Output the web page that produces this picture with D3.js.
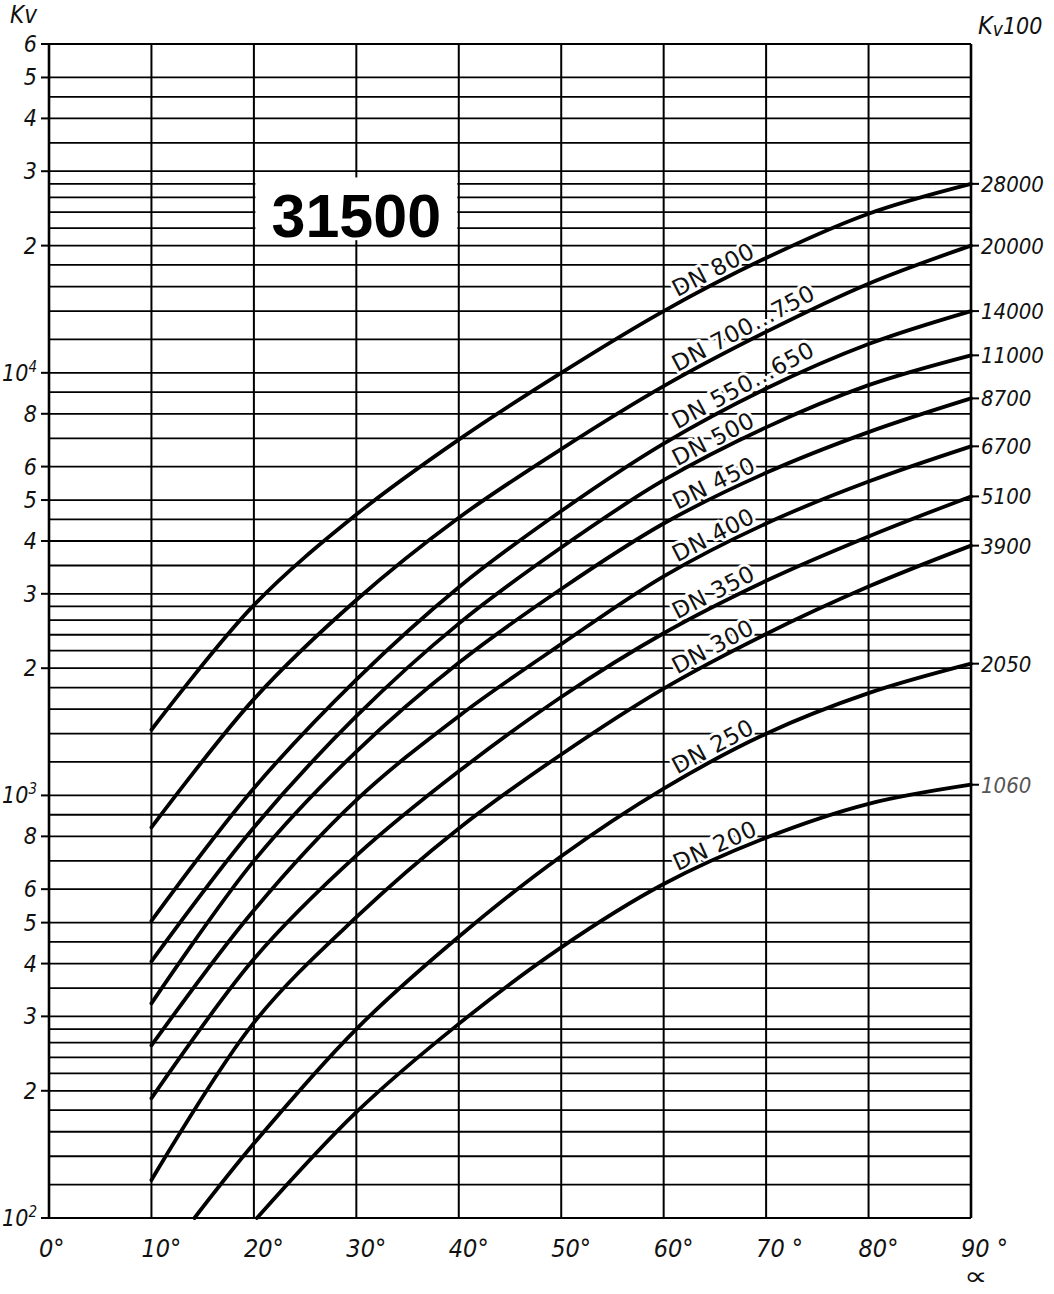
<!DOCTYPE html>
<html lang="de">
<head>
<meta charset="UTF-8">
<script src="https://d3js.org/d3.v7.min.js"></script>
<title>Kv 31500</title>
<style>
  body { margin: 0; background: #fff; }
  svg text { font-family: "DejaVu Sans Condensed", "DejaVu Sans", sans-serif; font-stretch: condensed; fill: #111; }
  .tick-label { font-style: oblique; font-size: 23px; }
  .angle-label { font-style: oblique; font-size: 25px; }
  .end-label { font-style: oblique; font-size: 22px; }
  .dn-label { font-family: "DejaVu Sans", sans-serif; font-stretch: normal; font-size: 23px; letter-spacing: 0.5px;
              stroke: #fff; stroke-width: 6px; paint-order: stroke; stroke-linejoin: round; }
  .title { font-family: "Liberation Sans", Arial, sans-serif; font-weight: bold; font-size: 61px; fill: #000; }
</style>
</head>
<body>
<div id="chart"></div>
<script>
// Kv over opening angle (series 31500)
var angles = [10, 20, 30, 40, 50, 60, 70, 80, 90];
var kvDn800 = [1430, 2820, 4620, 6950, 10000, 14000, 18700, 23800, 28000];
var kvDn700 = [840, 1690, 2900, 4540, 6600, 9300, 12500, 16250, 20000];
var kvDn550 = [505, 1040, 1880, 3110, 4710, 6800, 9180, 11700, 14000];
var kvDn500 = [405, 840, 1540, 2550, 3860, 5570, 7430, 9350, 11000];
var kvDn450 = [322, 700, 1270, 2060, 3080, 4400, 5800, 7240, 8700];
var kvDn400 = [256, 535, 975, 1540, 2280, 3300, 4400, 5530, 6700];
var kvDn350 = [192, 410, 720, 1140, 1710, 2420, 3220, 4100, 5100];
var kvDn300 = [123, 290, 515, 835, 1250, 1790, 2410, 3120, 3900];
// the two smallest sizes start at the bottom edge
var anglesDn250 = [14.2, 20, 30, 40, 50, 60, 70, 80, 90];
var kvDn250 = [100, 150, 280, 463, 718, 1038, 1400, 1746, 2050];
var anglesDn200 = [20.3, 30, 40, 50, 60, 70, 80, 90];
var kvDn200 = [100, 178, 288, 437, 617, 794, 955, 1060];

var dnNames = ["DN 800", "DN 700...750", "DN 550...650", "DN 500", "DN 450", "DN 400", "DN 350", "DN 300", "DN 250", "DN 200"];
var kv100Labels = ["28000", "20000", "14000", "11000", "8700", "6700", "5100", "3900", "2050", "1060"];

var kvTickValues = [60000, 50000, 40000, 30000, 20000, 10000, 8000, 6000, 5000, 4000, 3000, 2000, 1000, 800, 600, 500, 400, 300, 200, 100];
var kvTickLabels = ["6", "5", "4", "3", "2", "10^4", "8", "6", "5", "4", "3", "2", "10^3", "8", "6", "5", "4", "3", "2", "10^2"];
var gridSteps = [1, 1.2, 1.4, 1.6, 1.8, 2, 2.2, 2.4, 2.6, 2.8, 3, 3.5, 4, 4.5, 5, 6, 7, 8, 9];
var decades = [100, 1000, 10000];
var angleTicks = [0, 10, 20, 30, 40, 50, 60, 70, 80, 90];
var angleTickLabels = ["0°", "10°", "20°", "30°", "40°", "50°", "60°", "70 °", "80°", "90 °"];

var series = [
  {name: dnNames[0], end: kv100Labels[0], a: angles, kv: kvDn800},
  {name: dnNames[1], end: kv100Labels[1], a: angles, kv: kvDn700},
  {name: dnNames[2], end: kv100Labels[2], a: angles, kv: kvDn550},
  {name: dnNames[3], end: kv100Labels[3], a: angles, kv: kvDn500},
  {name: dnNames[4], end: kv100Labels[4], a: angles, kv: kvDn450},
  {name: dnNames[5], end: kv100Labels[5], a: angles, kv: kvDn400},
  {name: dnNames[6], end: kv100Labels[6], a: angles, kv: kvDn350},
  {name: dnNames[7], end: kv100Labels[7], a: angles, kv: kvDn300},
  {name: dnNames[8], end: kv100Labels[8], a: anglesDn250, kv: kvDn250},
  {name: dnNames[9], end: kv100Labels[9], a: anglesDn200, kv: kvDn200}
];

var width = 1054, height = 1294;
var margin = {top: 44, right: 83, bottom: 76, left: 49};

var svg = d3.select("#chart").append("svg")
  .attr("width", width)
  .attr("height", height);

var x = d3.scaleLinear().domain([0, 90]).range([margin.left, width - margin.right]);
var y = d3.scaleLog().domain([100, 60000]).range([height - margin.bottom, margin.top]);

// horizontal grid
var gridValues = [];
decades.forEach(function(d) {
  gridSteps.forEach(function(s) {
    var v = Math.round(d * s);
    if (v <= 60000) gridValues.push(v);
  });
});
gridValues.push(60000);

svg.append("g").selectAll("line")
  .data(gridValues)
  .enter().append("line")
  .attr("x1", x(0)).attr("x2", x(90))
  .attr("y1", function(d) { return y(d); })
  .attr("y2", function(d) { return y(d); })
  .attr("stroke", "#000")
  .attr("stroke-width", 1.8);

// vertical grid
svg.append("g").selectAll("line")
  .data(angleTicks)
  .enter().append("line")
  .attr("x1", function(d) { return x(d); })
  .attr("x2", function(d) { return x(d); })
  .attr("y1", y(60000)).attr("y2", y(100))
  .attr("stroke", "#000")
  .attr("stroke-width", function(d) { return (d == 0 || d == 90) ? 2.6 : 2; });

// title box covers the grid between 20 and 40 deg
svg.append("rect")
  .attr("x", x(20) + 1.5)
  .attr("y", y(29000))
  .attr("width", x(40) - x(20) - 3)
  .attr("height", y(20600) - y(29000))
  .attr("fill", "#fff");
svg.append("text")
  .attr("class", "title")
  .attr("x", (x(20) + x(40)) / 2)
  .attr("y", 237)
  .attr("text-anchor", "middle")
  .text("31500");

// left axis labels
var left = svg.append("g");
left.selectAll("line")
  .data(kvTickValues)
  .enter().append("line")
  .attr("x1", x(0) - 8).attr("x2", x(0))
  .attr("y1", function(d) { return y(d); })
  .attr("y2", function(d) { return y(d); })
  .attr("stroke", "#000").attr("stroke-width", 2);

kvTickValues.forEach(function(v, i) {
  var lab = kvTickLabels[i];
  var t = left.append("text")
    .attr("class", "tick-label")
    .attr("x", x(0) - 12)
    .attr("y", y(v) + 8)
    .attr("text-anchor", "end");
  if (lab.indexOf("^") > 0) {
    var parts = lab.split("^");
    t.append("tspan").text(parts[0]);
    t.append("tspan").attr("dy", -9).attr("font-size", "15px").text(parts[1]);
  } else {
    t.text(lab);
  }
});

// bottom labels
svg.append("g").selectAll("text")
  .data(angleTicks)
  .enter().append("text")
  .attr("class", "angle-label")
  .attr("x", function(d) { return x(d) - 10; })
  .attr("y", 1257)
  .text(function(d, i) { return angleTickLabels[i]; });

svg.append("text")
  .attr("class", "angle-label")
  .attr("transform", "translate(964,1285) scale(1.4,1)")
  .style("font-size", "26px")
  .style("font-style", "normal")
  .text("∝");

// axis titles
var kvLeft = svg.append("text").attr("class", "tick-label").attr("x", 10).attr("y", 23).style("font-size", "24px");
kvLeft.text("Kv");
var kvRight = svg.append("text").attr("class", "tick-label").attr("x", 978).attr("y", 34);
kvRight.append("tspan").style("font-size", "25px").text("K");
kvRight.append("tspan").style("font-size", "19px").attr("dy", 2).text("v");
kvRight.append("tspan").style("font-size", "23px").attr("dy", -2).text("100");

// Kv at an angle, log interpolation between read points (for label placement)
function kvAt(s, a) {
  for (var i = 0; i < s.a.length - 1; i++) {
    if (a >= s.a[i] && a <= s.a[i + 1]) {
      var f = (a - s.a[i]) / (s.a[i + 1] - s.a[i]);
      return Math.pow(10, Math.log10(s.kv[i]) + f * (Math.log10(s.kv[i + 1]) - Math.log10(s.kv[i])));
    }
  }
  return s.kv[s.kv.length - 1];
}

// DN labels along the curves, just right of 60 deg
var labels = svg.append("g");
series.forEach(function(s) {
  var a0 = 61.6;
  var px = x(a0), py = y(kvAt(s, a0));
  var ang = Math.atan2(y(kvAt(s, 70)) - y(kvAt(s, 60)), x(70) - x(60)) * 180 / Math.PI;
  labels.append("text")
    .attr("class", "dn-label")
    .attr("transform", "translate(" + px + "," + py + ") rotate(" + ang + ")")
    .attr("y", -6)
    .text(s.name);
});

// curves
var line = d3.line()
  .x(function(d) { return x(d[0]); })
  .y(function(d) { return y(d[1]); })
  .curve(d3.curveCatmullRom.alpha(0.5));

svg.append("g").selectAll("path")
  .data(series)
  .enter().append("path")
  .attr("d", function(s) { return line(s.a.map(function(a, i) { return [a, s.kv[i]]; })); })
  .attr("fill", "none")
  .attr("stroke", "#000")
  .attr("stroke-width", 3.8)
  .attr("stroke-linecap", "round");

// end values on the right
var right = svg.append("g");
series.forEach(function(s) {
  var ye = y(s.kv[s.kv.length - 1]);
  right.append("line")
    .attr("x1", x(90)).attr("x2", x(90) + 8)
    .attr("y1", ye).attr("y2", ye)
    .attr("stroke", "#000").attr("stroke-width", 2);
  right.append("text")
    .attr("class", "end-label")
    .attr("x", x(90) + 10)
    .attr("y", ye + 8)
    .style("fill", s.end == "1060" ? "#555" : "#111")
    .text(s.end);
});
</script>
</body>
</html>
